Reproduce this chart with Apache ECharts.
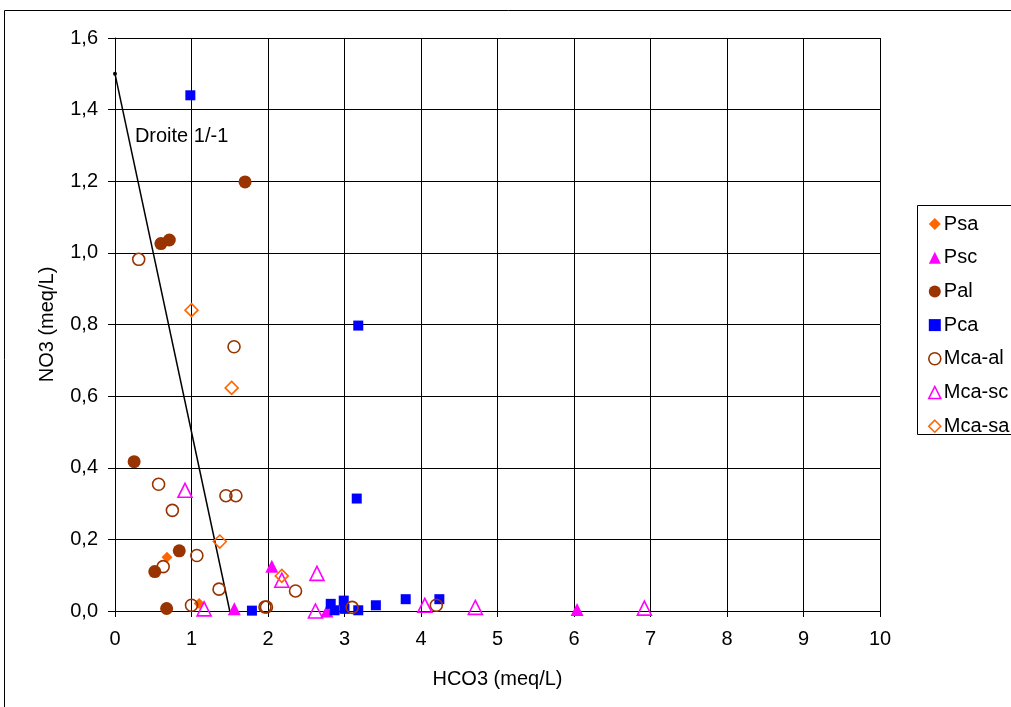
<!DOCTYPE html>
<html><head><meta charset="utf-8">
<script src="https://cdn.jsdelivr.net/npm/echarts@6/dist/echarts.min.js"></script>
<style>html,body{margin:0;padding:0;background:#fff}#c{width:1011px;height:707px}</style>
</head><body><div id="c"></div>
<script>
const xTicks = [0,1,2,3,4,5,6,7,8,9,10];
const yTicks = [0,0.2,0.4,0.6,0.8,1.0,1.2,1.4,1.6];
const psa = [[0.68,0.150],[1.10,0.021]];
const psc = [[1.56,0.006],[2.05,0.125],[2.77,0.000],[6.04,0.004]];
const pal = [[0.25,0.417],[0.60,1.026],[0.71,1.036],[1.70,1.198],[0.52,0.110],[0.84,0.168],[0.675,0.007]];
const pca = [[0.985,1.440],[3.18,0.797],[3.16,0.314],[1.79,0.001],[2.82,0.020],[2.87,0.002],[2.99,0.029],[3.00,0.006],[3.18,0.002],[3.41,0.016],[3.80,0.033],[4.24,0.033]];
const mcaAl = [[0.31,0.982],[1.556,0.738],[0.57,0.354],[1.45,0.322],[1.58,0.322],[0.75,0.281],[1.07,0.155],[0.63,0.124],[1.36,0.061],[1.00,0.016],[1.96,0.011],[1.98,0.011],[2.36,0.056],[3.10,0.010],[4.20,0.016]];
const mcaSc = [[0.915,0.337],[1.165,0.006],[2.18,0.086],[2.64,0.105],[2.62,0.000],[4.05,0.016],[4.71,0.010],[6.92,0.008]];
const mcaSa = [[1.00,0.840],[1.525,0.623],[1.37,0.194],[2.18,0.098]];
const droite = [[0,1.5],[1.5,0]];
const droiteLabel = {pos:[0.26,1.325], text:'Droite 1/-1'};

const FONT = 'Liberation Sans, Arial, sans-serif';
const chart = echarts.init(document.getElementById('c'), null, {renderer:'canvas'});
const ORANGE='#FF6600', MAG='#FF00FF', BROWN='#993300', BLUE='#0000FF';
const transparent='rgba(255,255,255,0)';
function filled(name,data,symbol,size,color){
  return {name,type:'scatter',data,symbol,symbolSize:size,itemStyle:{color,opacity:1},z:3};
}
function open(name,data,symbol,size,color){
  return {name,type:'scatter',data,symbol,symbolSize:size,itemStyle:{color:transparent,borderColor:color,borderWidth:1.6,opacity:1},z:3};
}
const option = {
  animation:false,
  textStyle:{fontFamily:FONT},
  grid:{left:115,right:131,top:38,bottom:96,containLabel:false},
  xAxis:{type:'value',min:0,max:10,interval:1,
    name:'HCO3 (meq/L)',nameLocation:'middle',nameGap:58,
    nameTextStyle:{fontSize:20,color:'#000',fontFamily:FONT},
    axisLine:{show:true,onZero:false,lineStyle:{color:'#000',width:1}},
    axisTick:{show:true,length:6,lineStyle:{color:'#000'}},
    axisLabel:{fontSize:20,color:'#000',margin:18,fontFamily:FONT,formatter:v=>String(v)},
    splitLine:{show:true,lineStyle:{color:'#000',width:1}}},
  yAxis:{type:'value',min:0,max:1.6,interval:0.2,
    name:'NO3 (meq/L)',nameLocation:'middle',nameGap:58,nameRotate:90,
    nameTextStyle:{fontSize:20,color:'#000',fontFamily:FONT},
    axisLine:{show:true,onZero:false,lineStyle:{color:'#000',width:1}},
    axisTick:{show:true,length:7,lineStyle:{color:'#000'}},
    axisLabel:{fontSize:20,color:'#000',margin:17,fontFamily:FONT,formatter:v=>v.toFixed(1).replace('.',',')},
    splitLine:{show:true,lineStyle:{color:'#000',width:1}}},
  legend:{orient:'vertical',left:923,top:209,itemGap:13.7,itemWidth:12,itemHeight:12,
    textStyle:{fontSize:20,color:'#000',fontFamily:FONT,padding:[0,0,0,-2]},
    data:[
      {name:'Psa',icon:'diamond',itemStyle:{color:ORANGE,opacity:1}},
      {name:'Psc',icon:'triangle',itemStyle:{color:MAG,opacity:1}},
      {name:'Pal',icon:'circle',itemStyle:{color:BROWN,opacity:1}},
      {name:'Pca',icon:'rect',itemStyle:{color:BLUE,opacity:1}},
      {name:'Mca-al',icon:'circle',itemStyle:{color:transparent,borderColor:BROWN,borderWidth:1.6,opacity:1}},
      {name:'Mca-sc',icon:'triangle',itemStyle:{color:transparent,borderColor:MAG,borderWidth:1.6,opacity:1}},
      {name:'Mca-sa',icon:'diamond',itemStyle:{color:transparent,borderColor:ORANGE,borderWidth:1.6,opacity:1}}
    ]},
  graphic:[
    {type:'rect',shape:{x:4.5,y:10.5,width:2000,height:2000},style:{fill:null,stroke:'#000',lineWidth:1},silent:true,z:-1},
    {type:'rect',shape:{x:917.5,y:205.5,width:200,height:229},style:{fill:'#fff',stroke:'#000',lineWidth:1},silent:true,z:-1}
  ],
  series:[
    {name:'Droite',type:'line',data:[{value:droite[0],symbol:'circle',symbolSize:4},{value:droite[1],symbol:'none'}],
     lineStyle:{color:'#000',width:1.5},itemStyle:{color:'#000'},z:2,
     label:{show:false}},
    {name:'DroiteLabel',type:'scatter',data:[droiteLabel.pos],symbolSize:0,itemStyle:{opacity:1},
     label:{show:true,position:'right',distance:0,formatter:droiteLabel.text,fontSize:20,color:'#000',fontFamily:FONT}},
    filled('Psa',psa,'diamond',11,ORANGE),
    filled('Psc',psc,'triangle',13,MAG),
    filled('Pal',pal,'circle',13,BROWN),
    filled('Pca',pca,'rect',10,BLUE),
    open('Mca-al',mcaAl,'circle',12,BROWN),
    open('Mca-sc',mcaSc,'triangle',14,MAG),
    open('Mca-sa',mcaSa,'diamond',13,ORANGE)
  ]
};
chart.setOption(option);
</script></body></html>
